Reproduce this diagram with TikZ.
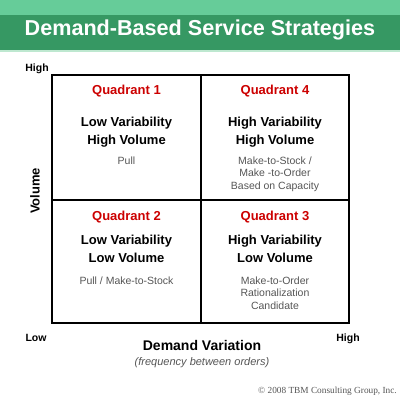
\documentclass[tikz,border=0pt]{standalone}
\usepackage{fontspec}
\setmainfont{Liberation Sans}
\newfontfamily\copyfont{Liberation Serif}
\definecolor{bandlight}{RGB}{102,204,153}
\definecolor{banddark}{RGB}{54,152,99}
\definecolor{bandedge}{RGB}{190,232,208}
\definecolor{quadred}{RGB}{204,0,0}
\definecolor{subgray}{RGB}{85,85,85}
\begin{document}
\begin{tikzpicture}[x=1pt, y=-1pt,
      every node/.style={inner sep=0pt, anchor=base},
      qtitle/.style={font=\bfseries\fontsize{13}{13}\selectfont, text=quadred},
      qmain/.style={font=\bfseries\fontsize{13}{18}\selectfont, align=center},
      qsub/.style={font=\fontsize{10.5}{12.5}\selectfont, text=subgray, align=center},
      axislabel/.style={font=\bfseries\fontsize{10.5}{10.5}\selectfont},
      gridline/.style={line width=2.5pt}]
  \useasboundingbox (0,0) rectangle (400,400);
  % header band
  \fill[bandlight] (0,0) rectangle (400,15);
  \fill[banddark] (0,15) rectangle (400,50);
  \fill[bandedge] (0,50) rectangle (400,52);
  \node[font=\bfseries\fontsize{21.6}{21.6}\selectfont, text=white] (title) at (200,35) {Demand-Based Service Strategies};
  % grid
  \draw[gridline] (52,75) rectangle (349,323);
  \draw[gridline] (201,75) -- (201,323);
  \draw[gridline] (52,200) -- (349,200);
  % quadrant 1 (multi-line nodes sit on their last baseline)
  \node[qtitle] (q1t) at (126.5,94) {Quadrant 1};
  \node[qmain] (q1m) at (126.5,144) {Low Variability\\High Volume};
  \node[qsub] (q1s) at (126.5,164) {Pull};
  % quadrant 4
  \node[qtitle] (q4t) at (275,94) {Quadrant 4};
  \node[qmain] (q4m) at (275,144) {High Variability\\High Volume};
  \node[qsub] (q4s) at (275,189) {Make-to-Stock /\\Make -to-Order\\Based on Capacity};
  % quadrant 2
  \node[qtitle] (q2t) at (126.5,220) {Quadrant 2};
  \node[qmain] (q2m) at (126.5,262) {Low Variability\\Low Volume};
  \node[qsub] (q2s) at (126.5,284) {Pull / Make-to-Stock};
  % quadrant 3
  \node[qtitle] (q3t) at (275,220) {Quadrant 3};
  \node[qmain] (q3m) at (275,262) {High Variability\\Low Volume};
  \node[qsub] (q3s) at (275,309) {Make-to-Order\\Rationalization\\Candidate};
  % axes
  \node[axislabel] (yhigh) at (37,71) {High};
  \node[axislabel] (xlow) at (36,341) {Low};
  \node[axislabel] (xhigh) at (348,341) {High};
  \node[font=\bfseries\fontsize{13}{13}\selectfont, rotate=90, anchor=center] (ylab) at (35,191) {Volume};
  \node[font=\bfseries\fontsize{14}{14}\selectfont] (xlab) at (202,350) {Demand Variation};
  \node[font=\itshape\fontsize{11}{11}\selectfont, text=subgray] (xsub) at (202,365) {(frequency between orders)};
  \node[font=\copyfont\fontsize{9.3}{9.3}\selectfont, text=subgray, anchor=base east] (copy) at (397,393) {© 2008 TBM Consulting Group, Inc.};
\end{tikzpicture}
\end{document}
